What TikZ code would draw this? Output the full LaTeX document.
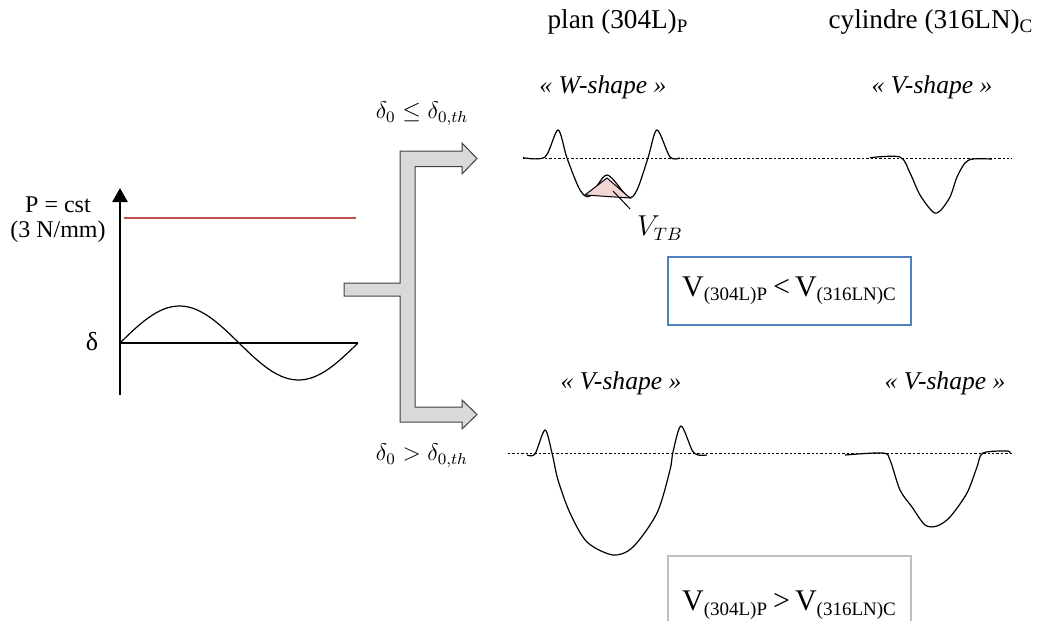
\documentclass[tikz,border=0pt]{standalone}
\usepackage{fontspec}
\setmainfont{Liberation Serif}
\usepackage{tikz}
\usetikzlibrary{arrows.meta,positioning}

\definecolor{boxblue}{RGB}{79,129,189}
\definecolor{boxgray}{RGB}{191,191,191}
\definecolor{loadred}{RGB}{192,80,77}
\definecolor{arrowfill}{RGB}{217,217,217}
\definecolor{tbpink}{RGB}{242,214,212}

\begin{document}
\begin{tikzpicture}[x=0.5pt,y=-0.5pt,every node/.style={font=\fontsize{12}{12.5}\selectfont},
  profil/.style={line width=0.6pt,smooth,tension=0.5},
  refline/.style={line width=0.4pt,dash pattern=on 1.2pt off 1pt},
  result/.style={draw,line width=0.9pt,minimum width=121.5pt,font=\fontsize{15}{17}\selectfont},
  title/.style={font=\fontsize{13.6}{15}\selectfont},
  shapelbl/.style={font=\fontsize{12.8}{14}\selectfont\itshape}]
  \path[use as bounding box,clip] (0,0) rectangle (1041,621);

  % loading
  \draw[line width=1.3pt,-{Triangle[width=7.5pt,length=7pt]}] (120,395) -- (120,188);
  \draw[loadred,line width=0.6pt] (124,218) -- (356,218);
  \draw[line width=0.6pt] (120,343) -- (358,343);
  \draw[line width=0.6pt] plot[domain=0:360,samples=60] ({120+\x/360*238},{343-37*sin(\x)});
  \node[align=center] (load) at (58,220) {P = cst\\(3 N/mm)};
  \node[font=\fontsize{13}{14}\selectfont] (delta) at (92,342) {δ};

  % split arrow
  \draw[fill=arrowfill,draw=black!75,line width=0.5pt]
    (344,283) -- (400,283) -- (400,151) -- (462,151) -- (462,143) -- (477,158.5)
    -- (462,174) -- (462,166.5) -- (415,166.5) -- (415,407) -- (462,407) -- (462,400)
    -- (477,414.5) -- (462,429) -- (462,422) -- (400,422) -- (400,296) -- (344,296) -- cycle;
  \node (condle) at (422,114) {$\delta_0 \le \delta_{0,th}$};
  \node (condgt) at (422,456) {$\delta_0 > \delta_{0,th}$};

  % titles
  \node[title] (plan) at (618,22) {plan (304L)\textsubscript{P}};
  \node[title] (cyl) at (931,22) {cylindre (316LN)\textsubscript{C}};
  \node[shapelbl] (wtop) at (603,87) {« W-shape »};
  \node[shapelbl] (vtopr) at (932,87) {« V-shape »};
  \node[shapelbl] (vbotl) at (621,383) {« V-shape »};
  \node[shapelbl] (vbotr) at (945,383) {« V-shape »};

  % profiles
  \draw[refline] (523,158) -- (1012,158);
  \draw[refline] (508,453) -- (1012,453);
  \draw[profil] plot coordinates {(523,157.7) (545,157) (558,130) (567,158) (580,190) (590,196)
    (607,175) (628,197) (637,190) (648,158) (657,130) (670,157) (680,158)};
  \draw[fill=tbpink,line width=0.5pt] (585,195) -- (607,178) -- (630,198) -- cycle;
  \draw[profil] plot coordinates {(870,157.7) (900,157) (910,173) (920,195) (933,212) (940,211)
    (950,197) (957,177) (965,163) (973,159) (992,159)};
  \draw[profil] plot coordinates {(527,455) (535,454) (545,430) (552,453) (558,480) (570,513)
    (587,542) (613,555) (633,547) (657,513) (670,470) (673,452) (681,426) (692,450) (698,455) (707,455)};
  \draw[profil] plot coordinates {(845,455) (883,453) (890,460) (900,490) (912,507) (925,525)
    (937,526) (950,517) (967,493) (977,467) (983,453) (1007,451) (1010,453)};

  % triangle volume
  \node[font=\fontsize{13.5}{16}\selectfont] (vtb) at (660,228) {$V_{TB}$};
  \coordinate (tb) at (613,191);
  \draw[line width=0.5pt] (tb) -- (vtb.north west);

  % results
  \node[result,draw=boxblue,minimum height=34pt] (res1) at (789.5,291)
    {V\textsubscript{\fontsize{9.5}{10}\selectfont(304L)P}\,<\,V\textsubscript{\fontsize{9.5}{10}\selectfont(316LN)C}};
  \node[result,draw=boxgray,minimum height=45pt,anchor=north,text depth=0pt] (res2) at (789.5,555)
    {V\textsubscript{\fontsize{9.5}{10}\selectfont(304L)P}\,>\,V\textsubscript{\fontsize{9.5}{10}\selectfont(316LN)C}};
\end{tikzpicture}
\end{document}
